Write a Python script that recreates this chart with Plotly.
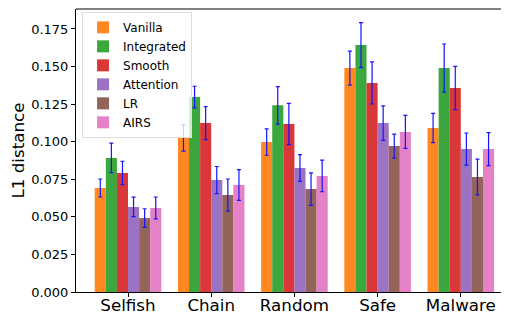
import plotly.graph_objects as go

categories = ["Selfish", "Chain", "Random", "Safe", "Malware"]
methods = ["Vanilla", "Integrated", "Smooth", "Attention", "LR", "AIRS"]
colors = ["#ff7f0e", "#2ca02c", "#d62728", "#9467bd", "#8c564b", "#e377c2"]

vanilla    = [0.0692, 0.1025, 0.0998, 0.1490, 0.1091]
integrated = [0.0892, 0.1297, 0.1242, 0.1643, 0.1490]
smooth     = [0.0792, 0.1124, 0.1118, 0.1391, 0.1357]
attention  = [0.0566, 0.0745, 0.0825, 0.1124, 0.0951]
lr         = [0.0492, 0.0645, 0.0685, 0.0971, 0.0765]
airs       = [0.0559, 0.0712, 0.0772, 0.1065, 0.0951]

vanilla_err    = [0.0060, 0.0088, 0.0088, 0.0113, 0.0097]
integrated_err = [0.0098, 0.0072, 0.0125, 0.0150, 0.0160]
smooth_err     = [0.0078, 0.0110, 0.0137, 0.0140, 0.0144]
attention_err  = [0.0065, 0.0090, 0.0089, 0.0115, 0.0107]
lr_err         = [0.0062, 0.0107, 0.0108, 0.0080, 0.0119]
airs_err       = [0.0073, 0.0102, 0.0105, 0.0110, 0.0110]

values = [vanilla, integrated, smooth, attention, lr, airs]
errors = [vanilla_err, integrated_err, smooth_err, attention_err, lr_err, airs_err]

y_ticks = [0.0, 0.025, 0.05, 0.075, 0.1, 0.125, 0.15, 0.175]

fig = go.Figure()
for name, col, v, e in zip(methods, colors, values, errors):
    fig.add_trace(go.Bar(
        name=name, x=list(range(len(categories))), y=v,
        marker=dict(color=col, line=dict(width=0)), opacity=0.92,
        error_y=dict(type="data", array=e, visible=True, color="blue",
                     thickness=1.2, width=2),
    ))

font = "DejaVu Sans"
# page body has an 8px margin, so the figure is 8px smaller and offset
fig.update_layout(
    width=501, height=306,
    margin=dict(l=68, r=0, t=1, b=22, autoexpand=False),
    paper_bgcolor="white", plot_bgcolor="white",
    barmode="group", bargap=0.2, bargroupgap=0,
    font=dict(family=font, color="black"),
    showlegend=True,
    legend=dict(x=0.014, y=0.99, xanchor="left", yanchor="top",
                bgcolor="rgba(255,255,255,0.8)", bordercolor="#dddddd",
                borderwidth=1, font=dict(size=12, family=font),
                itemwidth=30, tracegroupgap=0),
    xaxis=dict(range=[-0.625, 4.579], tickmode="array",
               tickvals=list(range(len(categories))), ticktext=categories,
               tickfont=dict(size=16.7), showline=True, linecolor="black",
               linewidth=1, ticks="outside", ticklen=4, tickcolor="black",
               showgrid=False, zeroline=False, automargin=False,
               ticklabelstandoff=-6),
    yaxis=dict(range=[0, 0.1883], tickmode="array", tickvals=y_ticks,
               tickformat=".3f", tickfont=dict(size=13), showline=True,
               linecolor="black", linewidth=1, ticks="outside", ticklen=4,
               tickcolor="black", showgrid=False, zeroline=False,
               automargin=False,
               title=dict(text="L1 distance", font=dict(size=16.7), standoff=6)),
    shapes=[dict(type="line", xref="paper", yref="paper", x0=0, x1=1, y0=1, y1=1,
                 line=dict(color="#808080", width=2))],
)

fig.write_html("out.html")
